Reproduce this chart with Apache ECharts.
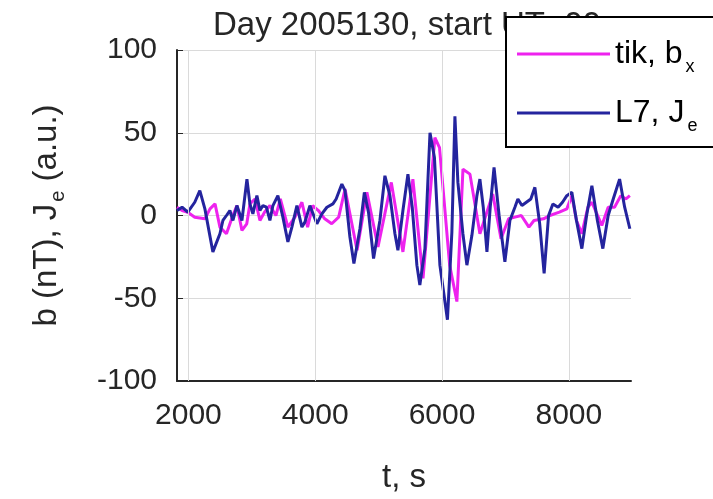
<!DOCTYPE html>
<html><head><meta charset="utf-8">
<script src="https://cdn.jsdelivr.net/npm/echarts@6/dist/echarts.min.js"></script>
<style>html,body{margin:0;padding:0;background:#fff}#c{width:713px;height:499px}</style>
</head><body><div id="c"></div>
<script>
const titleText = 'Day 2005130, start UT=00';
const xTicks = [2000, 4000, 6000, 8000];
const tikT = [1820,1900,1990,2100,2260,2340,2420,2497,2600,2700,2765,2844,2920,2970,3050,3128,3200,3285,3380,3450,3569,3680,3790,3880,3960,4050,4150,4260,4370,4470,4660,4815,4990,5200,5383,5540,5700,5887,5960,6030,6120,6234,6330,6440,6597,6800,6930,7050,7150,7250,7370,7450,7600,7700,7850,7968,8047,8120,8205,8300,8363,8520,8620,8720,8820,8900,8962];
const tikV = [5,3,2,-1,-2,4,7,-7,-11,0,6,-9,-5,7,10,-3,2,6,0,10,-7,-1,8,-7,6,3,-2,-5,-1,16,-21,14,-19,20,-22,22,-38,47,41,10,-30,-52,28,25,-11,13,-14,-2,-1,0,-7,-3,-2,0,2,4,12,-3,-11,5,8,-6,5,5,12,10,12];
const l7T = [1820,1900,1990,2100,2180,2260,2386,2497,2544,2600,2654,2702,2765,2844,2923,2970,3017,3080,3128,3175,3230,3285,3333,3411,3490,3569,3632,3711,3790,3837,3916,4026,4105,4184,4279,4330,4420,4470,4547,4610,4705,4775,4840,4920,5020,5099,5178,5257,5304,5383,5462,5530,5603,5650,5730,5810,5880,5966,6085,6155,6203,6250,6329,6392,6471,6550,6597,6650,6708,6760,6820,6900,6991,7070,7149,7196,7260,7330,7400,7464,7540,7610,7680,7748,7830,7900,7968,8047,8120,8205,8280,8363,8450,8536,8620,8700,8800,8880,8962];
const l7V = [3,5,2,8,15,4,-22,-11,-3,0,3,-3,6,-3,22,7,1,12,3,6,5,-3,6,12,-1,-16,-7,6,-7,-4,6,-5,1,5,7,10,19,15,-13,-29,-8,14,2,-26,-3,24,12,-11,-21,3,25,5,-30,-42,-20,50,35,-30,-63,-10,60,20,-11,-30,-12,12,22,5,-22,5,29,0,-28,-3,5,10,6,8,10,17,-5,-35,0,7,5,8,12,14,-3,-20,0,18,-3,-20,0,10,22,5,-8];

const FONT = "'Liberation Sans', Arial, Helvetica, sans-serif";
const TXT = '#262626';
const MAG = '#ee22ee';
const BLU = '#24249e';
const chart = echarts.init(document.getElementById('c'), null, {renderer: 'canvas'});
const pair = (t, v) => t.map((x, i) => [x, v[i]]);

chart.setOption({
  animation: false,
  backgroundColor: '#fff',
  textStyle: {fontFamily: FONT},
  title: {
    text: titleText, left: 208, top: 4, z: 1,
    textStyle: {fontFamily: FONT, fontSize: 33, fontWeight: 'normal', color: TXT}
  },
  legend: {
    z: 20, orient: 'vertical', left: 506, top: 17,
    padding: [15, 40, 12, 11],
    itemGap: 15, itemWidth: 93, itemHeight: 3,
    icon: 'path://M0,0H93V3H0Z',
    borderColor: '#000', borderWidth: 2, backgroundColor: '#fff', borderRadius: 0,
    data: ['tik', 'L7'],
    formatter: n => n === 'tik' ? '{a|tik, b}{s|x}' : '{a|L7, J}{s|e}',
    textStyle: {
      fontFamily: FONT, color: '#000',
      rich: {
        a: {fontFamily: FONT, fontSize: 32, lineHeight: 40, color: '#000'},
        s: {fontFamily: FONT, fontSize: 18, lineHeight: 18, padding: [26, 0, 0, 3], color: '#000'}
      }
    }
  },
  grid: {left: 177, right: 82, top: 50, bottom: 105, containLabel: false},
  xAxis: {
    type: 'value', min: 1820, max: 8980,
    name: 't, s', nameLocation: 'middle', nameGap: 80,
    nameTextStyle: {fontFamily: FONT, fontSize: 33, color: TXT},
    axisLine: {show: true, onZero: false, lineStyle: {color: TXT, width: 2}},
    axisTick: {show: true, inside: true, length: 6, customValues: xTicks, lineStyle: {color: TXT, width: 1}},
    axisLabel: {customValues: xTicks, formatter: v => String(v), fontFamily: FONT, fontSize: 30, color: TXT, margin: 20},
    splitLine: {show: false}
  },
  yAxis: {
    type: 'value', min: -100, max: 100, interval: 50,
    name: '{a|b (nT), J}{s|e}{a| (a.u.)}', nameLocation: 'middle', nameGap: 112, nameRotate: 90,
    nameTextStyle: {
      fontFamily: FONT, fontSize: 33, color: TXT,
      rich: {
        a: {fontFamily: FONT, fontSize: 33, lineHeight: 36, color: TXT},
        s: {fontFamily: FONT, fontSize: 20, lineHeight: 20, padding: [22, 0, 0, 2], color: TXT}
      }
    },
    axisLine: {show: true, lineStyle: {color: TXT, width: 2}},
    axisTick: {show: true, inside: true, length: 6, lineStyle: {color: TXT, width: 1}},
    axisLabel: {formatter: v => String(v), fontFamily: FONT, fontSize: 30, color: TXT, margin: 20},
    splitLine: {show: true, lineStyle: {color: '#dadada', width: 1}}
  },
  series: [
    {
      name: 'gridX', type: 'line', data: [], z: 1, silent: true,
      markLine: {
        silent: true, symbol: ['none', 'none'], label: {show: false},
        lineStyle: {color: '#dadada', type: 'solid', width: 1},
        data: xTicks.map(v => ({xAxis: v}))
      }
    },
    {
      name: 'tik', type: 'line', data: pair(tikT, tikV), symbol: 'none', z: 3,
      lineStyle: {color: MAG, width: 3}, itemStyle: {color: MAG}
    },
    {
      name: 'L7', type: 'line', data: pair(l7T, l7V), symbol: 'none', z: 4,
      lineStyle: {color: BLU, width: 3}, itemStyle: {color: BLU}
    }
  ]
});
</script>
</body></html>
